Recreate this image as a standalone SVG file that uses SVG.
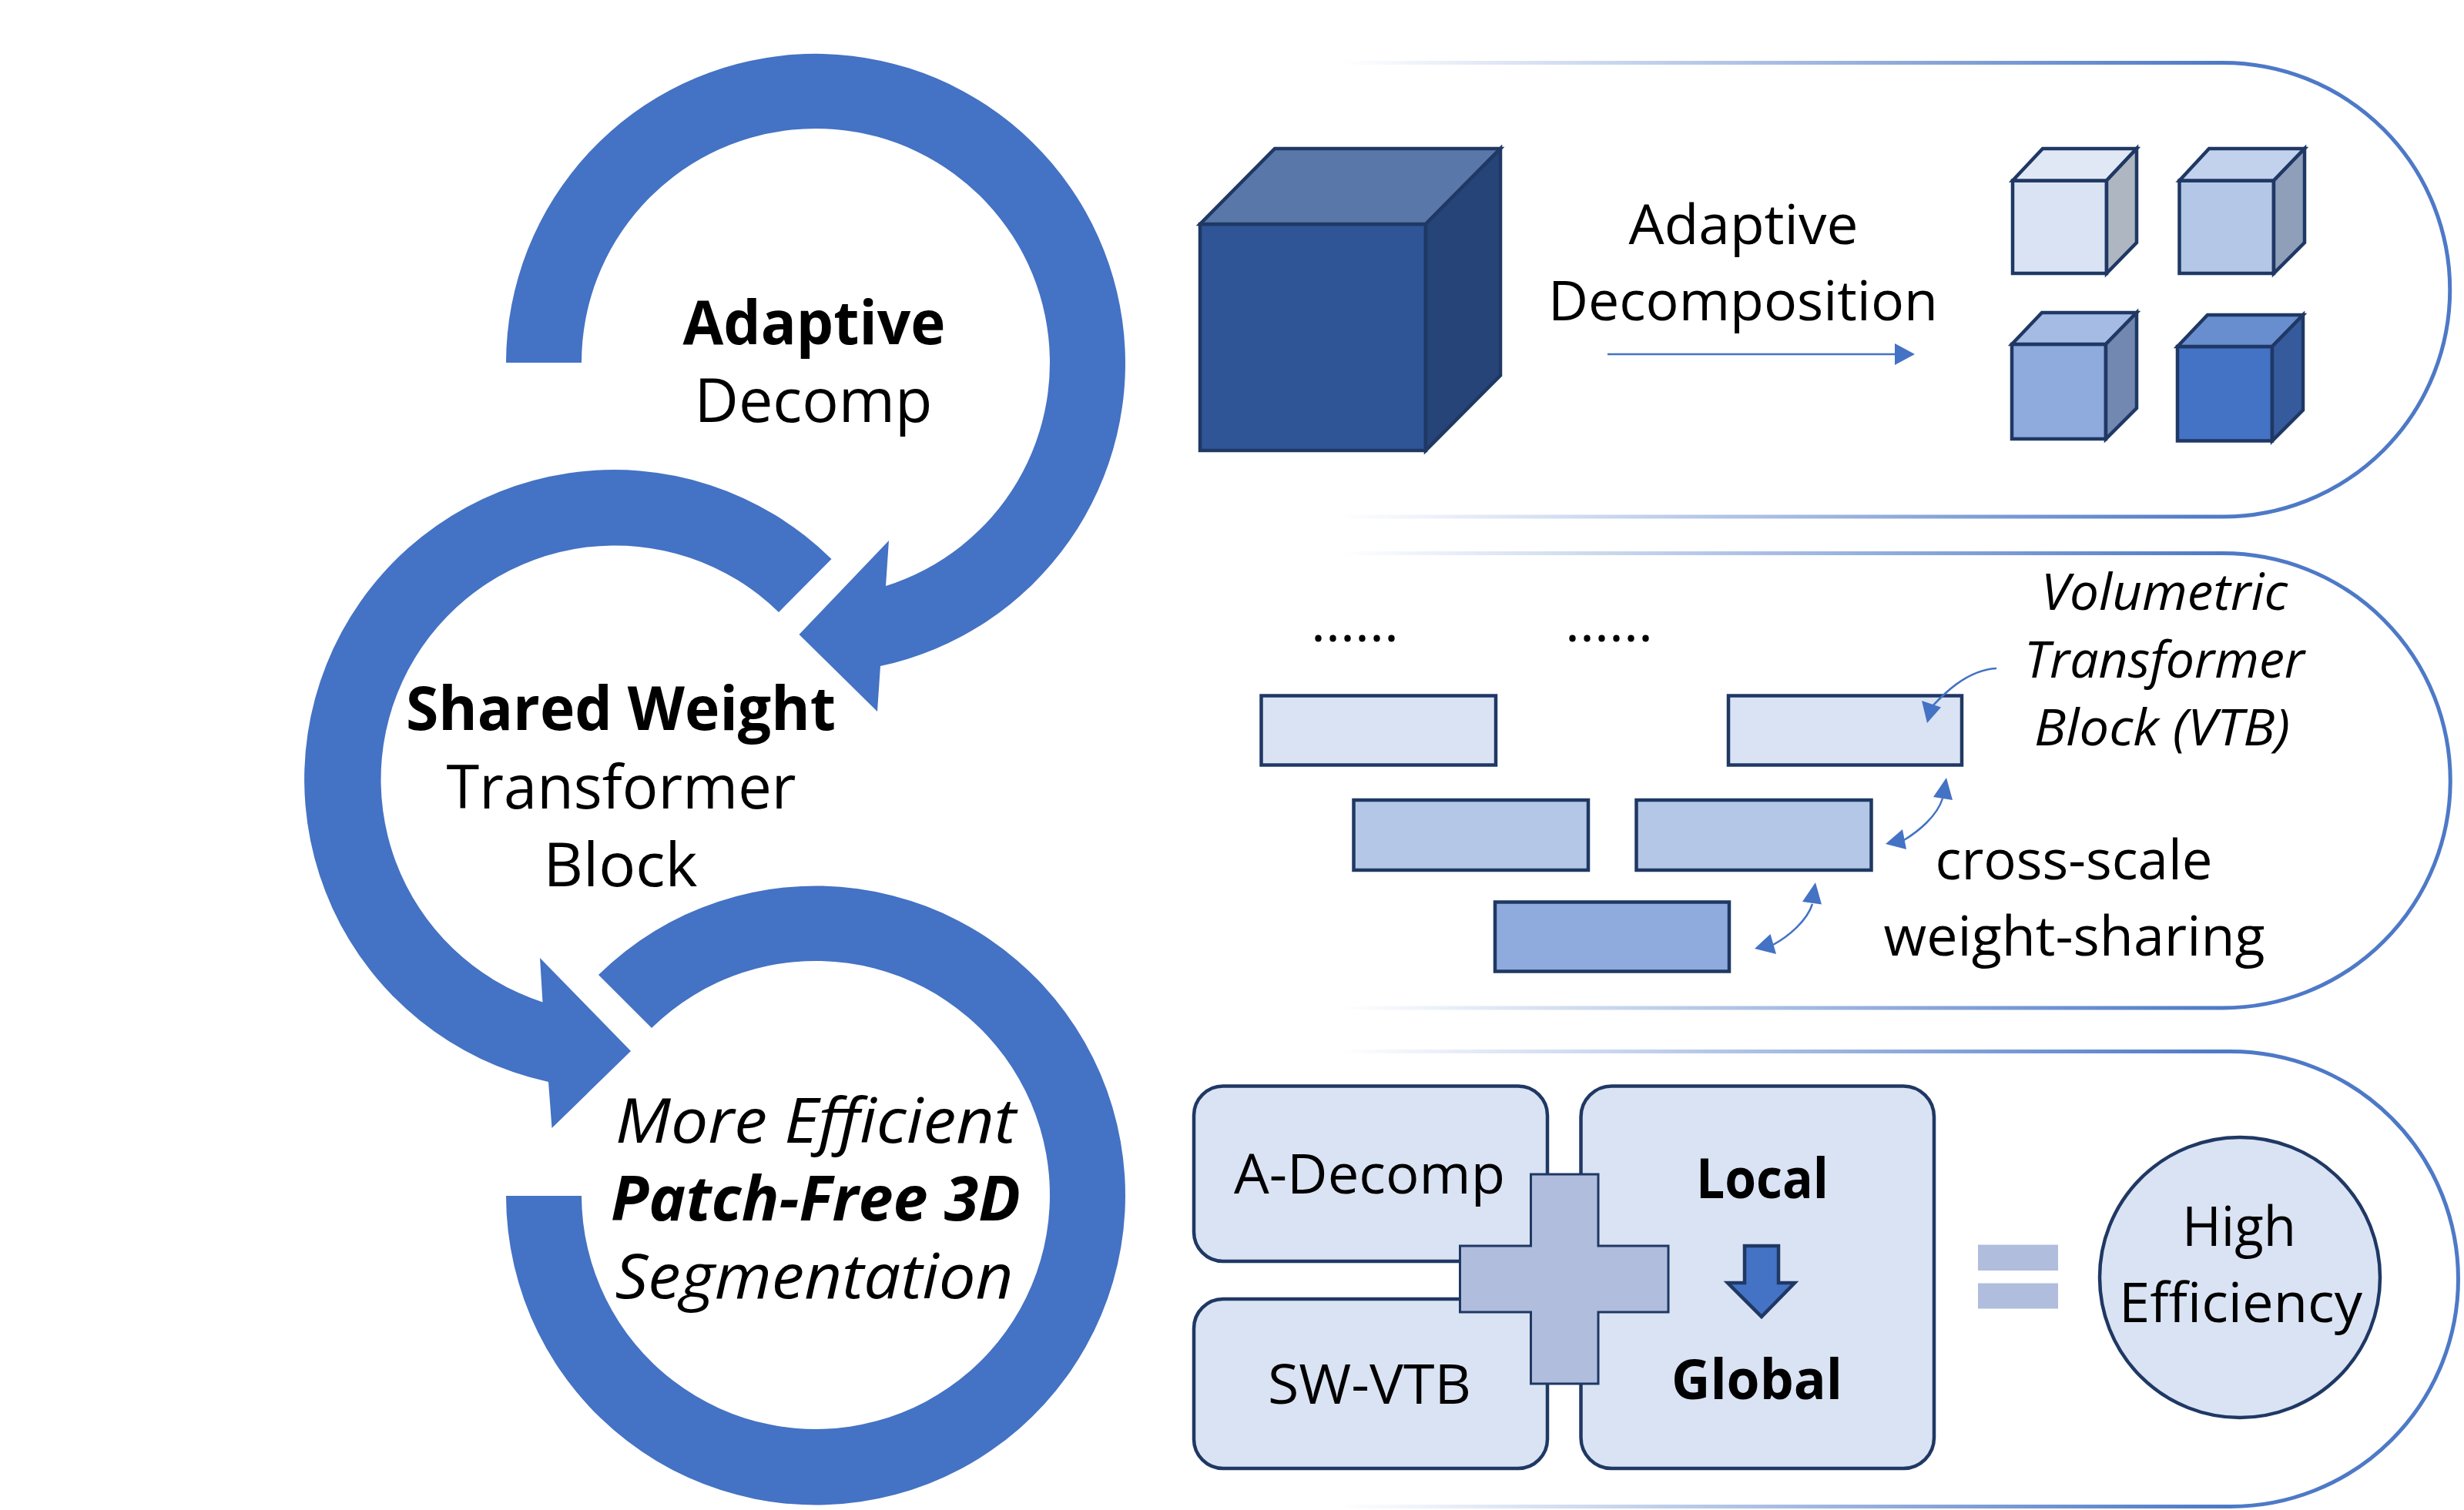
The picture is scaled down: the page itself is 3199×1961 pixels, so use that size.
<svg xmlns="http://www.w3.org/2000/svg" width="3199" height="1961" viewBox="0 0 3199 1961">
<style>
text{font-family:"Open Sans","Noto Sans","Liberation Sans",sans-serif;font-size:72px;fill:#000;text-anchor:middle}
.b{font-weight:700}.i{font-style:italic}.s{font-size:66px}.m{font-size:78px}.n{font-size:80px}
.arc{fill:#4472C4}
.o{stroke:#1F3864;stroke-width:4.5;stroke-linejoin:miter}
.pill{fill:none;stroke-width:5;stroke:url(#g)}
.c{fill:none;stroke:#4472C4;stroke-width:2.5}
.h{fill:#4472C4}
.l1{fill:#DAE3F3}.l2{fill:#B4C7E7}.l3{fill:#8FAADC}.pl{fill:#B0BDDD}
</style>
<defs>
<linearGradient id="g" gradientUnits="userSpaceOnUse" x1="1740" y1="0" x2="2886" y2="0"><stop offset="0" stop-color="#4472C4" stop-opacity="0"/><stop offset="1" stop-color="#4472C4" stop-opacity=".95"/></linearGradient>
</defs>
<rect width="3199" height="1961" fill="#fff"/>

<g id="loop-adaptive">
<path class="arc" d="M657,471A402,402 0 1 1 1143,865L1139,924L1037.5,824L1154,702L1150,761A304,304 0 1 0 755,471Z"/>
<text class="b m" x="1057" y="447" textLength="341" lengthAdjust="spacingAndGlyphs">Adaptive</text><text class="m" x="1056" y="548" textLength="309" lengthAdjust="spacingAndGlyphs">Decomp</text>
</g>
<g id="loop-shared">
<path class="arc" d="M1079.5,726A402,402 0 1 0 712,1405L716.5,1465L819,1365L701,1244L704.5,1301.5A304,304 0 1 1 1011,795Z"/>
<text class="b m" x="806" y="948" textLength="558" lengthAdjust="spacingAndGlyphs">Shared Weight</text><text class="m" x="806.5" y="1050" textLength="454" lengthAdjust="spacingAndGlyphs">Transformer</text><text class="m" x="805.5" y="1151" textLength="200" lengthAdjust="spacingAndGlyphs">Block</text>
</g>
<g id="loop-efficient">
<path class="arc" d="M777,1266A402,402 0 1 1 657,1553L755,1553A304,304 0 1 0 846,1335Z"/>
<text class="i n" x="1059" y="1484" textLength="520" lengthAdjust="spacingAndGlyphs">More Efficient</text><text class="b i n" x="1059" y="1585" textLength="532" lengthAdjust="spacingAndGlyphs">Patch-Free 3D</text><text class="i n" x="1057" y="1686" textLength="517" lengthAdjust="spacingAndGlyphs">Segmentation</text>
</g>

<g id="panel-decomposition">
<path class="pill" d="M1740,81.5H2886A294.75,294.75 0 0 1 2886,671H1740"/>
<g id="big-cube" class="o">
<path fill="#2F5597" d="M1558,291H1851V585H1558Z"/><path fill="#5A77A9" d="M1558,291L1655,193H1948L1851,291Z"/><path fill="#264478" d="M1851,291L1948,193V487.5L1851,585Z"/>
</g>
<g id="cube-1" class="o"><path fill="#DAE3F3" d="M2613,234.5H2735V355H2613Z"/><path fill="#E1E8F5" d="M2613,234.5L2652,193H2774L2735,234.5Z"/><path fill="#AEB6C2" d="M2735,234.5L2774,193V315L2735,355Z"/></g>
<g id="cube-2" class="o"><path fill="#B4C7E7" d="M2829.5,234.5H2952V355H2829.5Z"/><path fill="#C3D2EC" d="M2829.5,234.5L2868,193H2992L2952,234.5Z"/><path fill="#909FB9" d="M2952,234.5L2992,193V315L2952,355Z"/></g>
<g id="cube-3" class="o"><path fill="#8FAADC" d="M2612,447H2734V570H2612Z"/><path fill="#A5BBE3" d="M2612,447L2651,406H2774L2734,447Z"/><path fill="#7288B0" d="M2734,447L2774,406V530L2734,570Z"/></g>
<g id="cube-4" class="o"><path fill="#4472C4" d="M2827,450H2950V572.5H2827Z"/><path fill="#698ED0" d="M2827,450L2866,409H2990L2950,450Z"/><path fill="#365B9D" d="M2950,450L2990,409V532.5L2950,572.5Z"/></g>
<text x="2263.5" y="317" textLength="298" lengthAdjust="spacingAndGlyphs">Adaptive</text><text x="2263" y="416" textLength="506" lengthAdjust="spacingAndGlyphs">Decomposition</text>
</g>

<g id="panel-vtb">
<path class="pill" d="M1740,718.5H2886A295.25,295.25 0 0 1 2886,1309H1740"/>
<g id="blocks" class="o">
<rect class="l1" x="1637.5" y="903.5" width="304.5" height="90"/><rect class="l1" x="2244" y="903.5" width="303" height="90"/>
<rect class="l2" x="1757.5" y="1039" width="304.5" height="91"/><rect class="l2" x="2124.5" y="1039" width="305" height="91"/>
<rect class="l3" x="1941" y="1171.5" width="304" height="90"/>
</g>
<text x="1759" y="833" textLength="114" lengthAdjust="spacingAndGlyphs">......</text><text x="2089" y="833" textLength="114" lengthAdjust="spacingAndGlyphs">......</text>
<text class="i s" x="2810" y="792" textLength="320" lengthAdjust="spacingAndGlyphs">Volumetric</text><text class="i s" x="2810" y="880" textLength="364" lengthAdjust="spacingAndGlyphs">Transformer</text><text class="i s" x="2807" y="968" textLength="332" lengthAdjust="spacingAndGlyphs">Block (VTB)</text>
<text x="2692.5" y="1142" textLength="360" lengthAdjust="spacingAndGlyphs">cross-scale</text><text x="2693" y="1241" textLength="495" lengthAdjust="spacingAndGlyphs">weight-sharing</text>
</g>

<g id="panel-efficiency">
<path class="pill" d="M1740,1365.5H2896A295.5,295.5 0 0 1 2896,1956.5H1740"/>
<g id="a-decomp"><rect class="l1 o" x="1550" y="1410.5" width="459" height="227.5" rx="38"/><text x="1778" y="1550" textLength="352" lengthAdjust="spacingAndGlyphs">A-Decomp</text></g>
<g id="sw-vtb"><rect class="l1 o" x="1550" y="1687" width="459" height="220" rx="38"/><text x="1778" y="1823" textLength="264" lengthAdjust="spacingAndGlyphs">SW-VTB</text></g>
<g id="local-global"><rect class="l1 o" x="2052.5" y="1410.5" width="458.5" height="496.5" rx="40"/>
<text class="b" x="2288" y="1556" textLength="172" lengthAdjust="spacingAndGlyphs">Local</text><text class="b" x="2281" y="1817" textLength="222" lengthAdjust="spacingAndGlyphs">Global</text>
<path class="o" fill="#4472C4" d="M2265,1618H2309V1666H2330L2287,1710L2243,1666H2265Z"/></g>
<path id="plus" class="pl" stroke="#1F3864" stroke-width="3" d="M1987.5,1525H2075V1618H2166V1704H2075V1797H1987.5V1704H1895.5V1618H1987.5Z"/>
<g id="equals" class="pl"><rect x="2568" y="1616.5" width="104" height="33.5"/><rect x="2568" y="1666.5" width="104" height="33"/></g>
<g id="high-efficiency"><circle class="l1 o" cx="2908" cy="1659" r="182"/><text x="2907" y="1618" textLength="148" lengthAdjust="spacingAndGlyphs">High</text><text x="2909" y="1717" textLength="316" lengthAdjust="spacingAndGlyphs">Efficiency</text></g>
</g>

<g id="connectors">
<path class="c" d="M2087,460H2462"/><path class="h" d="M2460,446L2486,460L2460,474Z"/>
<path class="c" d="M2592,868C2552,870 2520,905 2508,918"/><path class="h" d="M2502,939L2495,910L2520,918.6Z"/>
<path class="c" d="M2522,1037C2515,1060 2490,1080 2472,1091"/><path class="h" d="M2527,1010L2510,1035L2535,1039Z"/><path class="h" d="M2448,1096L2470,1077L2475,1103Z"/>
<path class="c" d="M2353,1174C2346,1196 2322,1216 2302,1227"/><path class="h" d="M2357,1146L2340,1171L2365,1174.5Z"/><path class="h" d="M2278,1232L2298.5,1213L2306,1239Z"/>
</g>
</svg>
